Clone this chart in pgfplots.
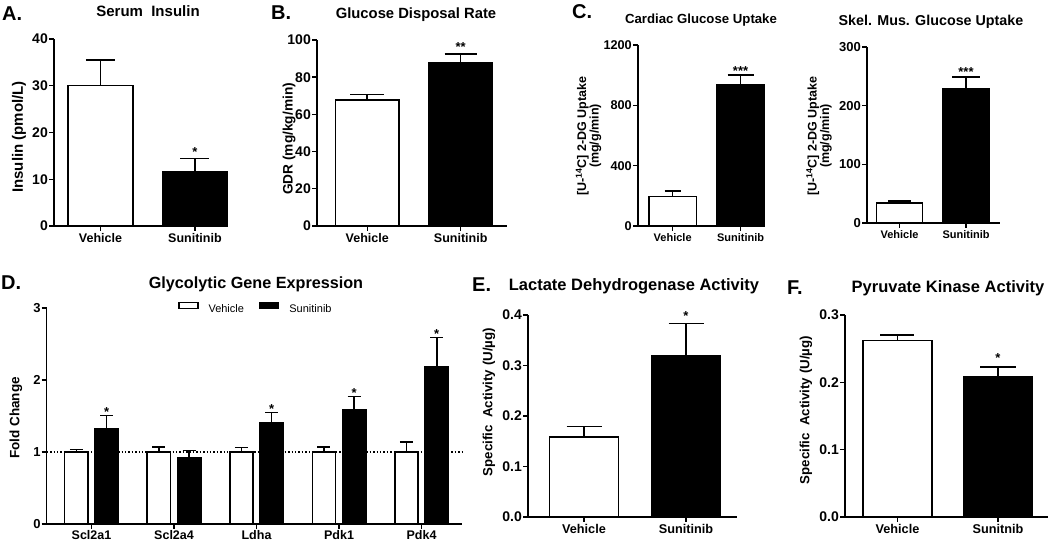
\documentclass[border=0pt]{standalone}
\usepackage{fontspec}
\setmainfont{Liberation Sans}
\usepackage{pgfplots}
\pgfplotsset{compat=1.18}
\newcommand\fs[1]{\fontsize{#1}{#1}\selectfont}
\tikzset{sigstar/.style={anchor=base, yshift=-7.5pt, font=\bfseries\fs{13}, inner sep=0pt}}
\pgfplotsset{
  gp/.style={
    scale only axis,
    axis x line*=bottom, axis y line*=left,
    axis line style={-, line width=1.5pt},
    tick style={line width=1.4pt, black},
    major tick length=5pt,
    tick align=outside,
    enlargelimits=false,
    clip=false,
    ymin=0,
    xtick={0,1},
    xticklabels={Vehicle,Sunitinib},
    /pgf/number format/assume math mode=true,
    /pgf/number format/1000 sep={},
    scaled y ticks=false,
    yticklabel style={font=\bfseries\fs{14}, inner sep=1pt},
    xticklabel style={font=\bfseries\fs{12.5}, inner sep=2pt},
  },
  bars/.style 2 args={ybar, bar shift=0pt, bar width=#1, draw=black, line width=1.5pt,
    error bars/y dir=plus, error bars/y explicit,
    error bars/error mark=|,
    error bars/error bar style={line width=1.5pt, black, solid},
    error bars/error mark options={line width=1.5pt, black, solid, mark size=#2}},
  veh/.style 2 args={bars={#1}{#2}, fill=white},
  sun/.style 2 args={bars={#1}{#2}, fill=black},
  legbox/.style={legend image code/.code={\draw[##1,/tikz/.cd,line width=1.4pt] (0pt,1pt) rectangle (19pt,7pt);}},
  onedec/.style={yticklabel style={/pgf/number format/fixed, /pgf/number format/fixed zerofill, /pgf/number format/precision=1}},
}
\begin{document}
\begin{tikzpicture}
\useasboundingbox (0,0) rectangle (1050pt,541pt);
% ---------- A ----------
\begin{axis}[gp, at={(54pt,315pt)}, anchor=south west, width=173pt, height=187pt,
  xmin=-0.492, xmax=1.339, ymax=40, ytick={0,10,20,30,40}]
\addplot[veh={0.688}{14.5pt}] coordinates {(0,30.0) +- (0,5.5)};
\addplot[sun={0.688}{14.5pt}] coordinates {(1,11.6) +- (0,2.8)};
\node[sigstar] at (axis cs:1,16.5) {*};
\end{axis}
% ---------- B ----------
\begin{axis}[gp, at={(317pt,315pt)}, anchor=south west, width=190pt, height=186pt,
  xmin=-0.537, xmax=1.495, ymax=100, ytick={0,20,40,60,80,100}]
\addplot[veh={0.68}{17pt}] coordinates {(0,67.7) +- (0,3.1)};
\addplot[sun={0.68}{16pt}] coordinates {(1,87.8) +- (0,4.7)};
\node[sigstar] at (axis cs:1,97.8) {**};
\end{axis}
% ---------- C (cardiac) ----------
\begin{axis}[gp, at={(638pt,315pt)}, anchor=south west, width=127pt, height=181pt,
  xmin=-0.511, xmax=1.36, ymax=1200, ytick={0,400,800,1200},
  yticklabel style={font=\bfseries\fs{12.7}},
  xticklabel style={font=\bfseries\fs{11}}]
\addplot[veh={0.696}{8pt}] coordinates {(0,194) +- (0,38)};
\addplot[sun={0.696}{13pt}] coordinates {(1,939) +- (0,62)};
\node[sigstar] at (axis cs:1,1047) {***};
\end{axis}
% ---------- C (skeletal muscle) ----------
\begin{axis}[gp, at={(867pt,318pt)}, anchor=south west, width=133pt, height=176pt,
  xmin=-0.489, xmax=1.511, ymax=300, ytick={0,100,200,300},
  yticklabel style={font=\bfseries\fs{13}},
  xticklabel style={font=\bfseries\fs{11}}]
\addplot[veh={0.69}{11.5pt}] coordinates {(0,34) +- (0,3.4)};
\addplot[sun={0.69}{13.7pt}] coordinates {(1,229) +- (0,20)};
\node[sigstar] at (axis cs:1,262.5) {***};
\end{axis}
% ---------- D ----------
\begin{axis}[gp, at={(46.7pt,17pt)}, anchor=south west, width=415.3pt, height=216pt,
  xmin=-0.543, xmax=4.49, ymax=3, ytick={0,1,2,3},
  xtick={0,1,2,3,4}, xticklabels={Scl2a1,Scl2a4,Ldha,Pdk1,Pdk4},
  yticklabel style={font=\bfseries\fs{13}},
  xticklabel style={font=\bfseries\fs{12.5}, inner sep=1pt},
  legend columns=2,
  legend style={at={(axis description cs:0.316,1.0)}, anchor=west, draw=none, fill=none,
    inner sep=0pt, font=\fs{11}, nodes={inner sep=0pt},
    /tikz/every odd column/.append style={column sep=10pt},
    /tikz/every even column/.append style={column sep=15pt}}]
\addplot[dotted, line width=1.4pt, forget plot] coordinates {(-0.543,1) (4.49,1)};
\addplot[veh={0.281}{6.5pt}, legbox] coordinates {
  (-0.184,1.0) +- (0,0.037) (0.816,1.0) +- (0,0.069) (1.816,1.0) +- (0,0.06)
  (2.816,1.0) +- (0,0.069) (3.816,1.0) +- (0,0.138)};
\addplot[sun={0.281}{6.5pt}, legbox] coordinates {
  (0.184,1.32) +- (0,0.185) (1.184,0.92) +- (0,0.10) (2.184,1.40) +- (0,0.15)
  (3.184,1.59) +- (0,0.18) (4.184,2.18) +- (0,0.41)};
\legend{Vehicle, Sunitinib}
\node[sigstar] at (axis cs:0.184,1.60) {*};
\node[sigstar] at (axis cs:2.184,1.645) {*};
\node[sigstar] at (axis cs:3.184,1.865) {*};
\node[sigstar] at (axis cs:4.184,2.685) {*};
\end{axis}
% ---------- E ----------
\begin{axis}[gp, onedec, at={(528pt,24pt)}, anchor=south west, width=209pt, height=202pt,
  xmin=-0.549, xmax=1.5, ymax=0.4, ytick={0,0.1,0.2,0.3,0.4},
  yticklabel style={font=\bfseries\fs{14}}, xticklabel style={font=\bfseries\fs{12.7}}]
\addplot[veh={0.676}{17.5pt}] coordinates {(0,0.158) +- (0,0.021)};
\addplot[sun={0.676}{17.5pt}] coordinates {(1,0.319) +- (0,0.064)};
\node[sigstar] at (axis cs:1,0.404) {*};
\end{axis}
% ---------- F ----------
\begin{axis}[gp, onedec, at={(845pt,24pt)}, anchor=south west, width=203pt, height=202pt,
  xmin=-0.522, xmax=1.4975, ymax=0.3, ytick={0,0.1,0.2,0.3},
  xticklabels={Vehicle,Sunitnib},
  yticklabel style={font=\bfseries\fs{14}}, xticklabel style={font=\bfseries\fs{12.7}}]
\addplot[veh={0.69}{17pt}] coordinates {(0,0.262) +- (0,0.008)};
\addplot[sun={0.69}{18pt}] coordinates {(1,0.208) +- (0,0.015)};
\node[sigstar] at (axis cs:1,0.2406) {*};
\end{axis}
% ---------- panel letters ----------
\begin{scope}[every node/.style={anchor=base west, inner sep=0pt, font=\bfseries\fs{20}}]
\node at (2pt,520.3pt) {A.};
\node at (271pt,521.7pt) {B.};
\node at (572pt,522.7pt) {C.};
\node at (1pt,251pt) {D.};
\node at (472pt,249.3pt) {E.};
\node at (787pt,246pt) {F.};
\end{scope}
% ---------- titles ----------
\begin{scope}[every node/.style={anchor=base, inner sep=0pt}]
\node[font=\bfseries\fs{15}] at (148pt,524.3pt) {Serum\ \ Insulin};
\node[font=\bfseries\fs{14.8}] at (416pt,522pt) {Glucose Disposal Rate};
\node[font=\bfseries\fs{13.2}] at (701pt,517.7pt) {Cardiac Glucose Uptake};
\node[font=\bfseries\fs{14.3}] at (931pt,515pt) {Skel. Mus. Glucose Uptake};
\node[font=\bfseries\fs{16.2}] at (256pt,252.7pt) {Glycolytic Gene Expression};
\node[font=\bfseries\fs{16.5}] at (634pt,250.3pt) {Lactate Dehydrogenase Activity};
\node[font=\bfseries\fs{16.5}] at (948pt,248.3pt) {Pyruvate Kinase Activity};
\end{scope}
% ---------- y labels ----------
\begin{scope}[every node/.style={rotate=90, anchor=center, inner sep=0pt}]
\node[font=\bfseries\fs{15}] at (19pt,404pt) {Insulin (pmol/L)};
\node[font=\bfseries\fs{13.7}] at (289pt,402pt) {GDR (mg/kg/min)};
\node[font=\bfseries\fs{12.5}, align=center] at (588.5pt,405pt) {[U-\textsuperscript{14}C] 2-DG Uptake\\(mg/g/min)};
\node[font=\bfseries\fs{12.5}, align=center] at (819pt,405pt) {[U-\textsuperscript{14}C] 2-DG Uptake\\(mg/g/min)};
\node[font=\bfseries\fs{13.5}] at (16pt,123pt) {Fold Change};
\node[font=\bfseries\fs{13.3}] at (489pt,139pt) {Specific\ \ Activity (U/µg)};
\node[font=\bfseries\fs{13.3}] at (806pt,131pt) {Specific\ \ Activity (U/µg)};
\end{scope}
\end{tikzpicture}
\end{document}
